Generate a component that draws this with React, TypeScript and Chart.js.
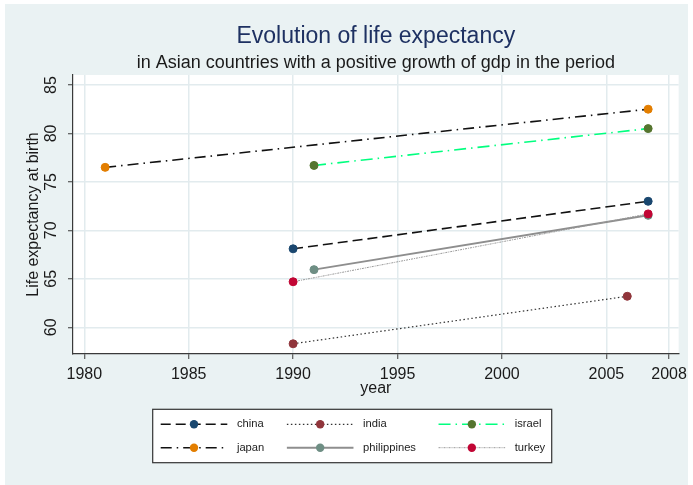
import React, { useEffect, useRef } from "react";
import { Chart, registerables } from "chart.js";

Chart.register(...registerables);

// ---------- text ----------
const TITLE = "Evolution of life expectancy";
const SUBTITLE = "in Asian countries with a positive growth of gdp in the period";
const X_TITLE = "year";
const Y_TITLE = "Life expectancy at birth";

// ---------- data ----------
const countries = ["china", "india", "israel", "japan", "philippines", "turkey"];

const chinaYears = [1990, 2007];
const chinaLife = [68.1, 73.0];
const indiaYears = [1990, 2006];
const indiaLife = [58.3, 63.2];
const israelYears = [1991, 2007];
const israelLife = [76.7, 80.5];
const japanYears = [1981, 2007];
const japanLife = [76.5, 82.5];
const philippinesYears = [1991, 2007];
const philippinesLife = [65.95, 71.55];
const turkeyYears = [1990, 2007];
const turkeyLife = [64.7, 71.7];

const xTicks = [1980, 1985, 1990, 1995, 2000, 2005, 2008];
const yTicks = [60, 65, 70, 75, 80, 85];

const seriesYears = [chinaYears, indiaYears, israelYears, japanYears, philippinesYears, turkeyYears];
const seriesLife = [chinaLife, indiaLife, israelLife, japanLife, philippinesLife, turkeyLife];

// ---------- styles ----------
const FAMILY = '"Liberation Sans", Arial, Helvetica, sans-serif';
const BG = "#EAF2F3";
const GRID = "#E2EBEE";
const AXIS = "#3a3a3a";
const TEXT = "#1a1a1a";
const TITLE_COLOR = "#1e3162";

const lineColors = ["#111111", "#333333", "#00ff7f", "#111111", "#8e8e8e", "#9a9a9a"];
const lineDashes = [[10, 5], [1.5, 2.5], [12, 5, 1.5, 5], [11, 5, 1.5, 5], [], [2, 1, 1, 1]];
const lineWidths = [1.6, 1.2, 1.6, 1.6, 2, 1];
const markerColors = ["#1a476f", "#90353b", "#55752f", "#e37e00", "#6e8e84", "#c10534"];

const backgroundPlugin = {
  id: "stataBackground",
  beforeDraw(chart: any) {
    const { ctx, width, height, chartArea: ca } = chart;
    ctx.save();
    ctx.fillStyle = "#ffffff";
    ctx.fillRect(0, 0, width, height);
    ctx.fillStyle = BG;
    ctx.fillRect(5, 4, 683, 481);
    ctx.fillStyle = "#ffffff";
    ctx.fillRect(ca.left, ca.top, ca.right - ca.left, ca.bottom - ca.top);
    ctx.restore();
  },
};

const decorPlugin = {
  id: "stataDecor",
  afterDraw(chart: any) {
    const { ctx, chartArea: ca } = chart;
    const cx = (ca.left + ca.right) / 2;
    ctx.save();
    // titles
    ctx.textAlign = "center";
    ctx.textBaseline = "alphabetic";
    ctx.fillStyle = TITLE_COLOR;
    ctx.font = `23px ${FAMILY}`;
    ctx.fillText(TITLE, cx, 43);
    ctx.fillStyle = TEXT;
    ctx.font = `18px ${FAMILY}`;
    ctx.fillText(SUBTITLE, cx, 67.5);

    // rotated y tick labels
    const ys = chart.scales.y;
    ctx.font = `16px ${FAMILY}`;
    ctx.fillStyle = TEXT;
    ctx.textAlign = "center";
    ctx.textBaseline = "middle";
    for (const t of ys.ticks) {
      const py = ys.getPixelForValue(t.value);
      ctx.save();
      ctx.translate(52, py);
      ctx.rotate(-Math.PI / 2);
      ctx.fillText(String(t.value), 0, 0);
      ctx.restore();
    }

    // legend
    const ds = chart.data.datasets;
    const cols = 3;
    const sampleW = 66.6;
    const gap = 9.6;
    const colGap = 22.6;
    ctx.font = `11.2px ${FAMILY}`;
    const colX: number[] = [160.7];
    const colMax: number[] = [];
    for (let c = 0; c < cols; c++) {
      let maxW = 0;
      for (let i = c; i < ds.length; i += cols) maxW = Math.max(maxW, ctx.measureText(ds[i].label).width);
      colMax.push(maxW);
      if (c < cols - 1) colX.push(colX[c] + sampleW + gap + maxW + colGap);
    }
    const boxL = 152.7;
    const boxT = 409.3;
    const boxR = colX[cols - 1] + sampleW + gap + colMax[cols - 1] + 6.5;
    const boxB = 462.7;
    ctx.fillStyle = "#ffffff";
    ctx.fillRect(boxL, boxT, boxR - boxL, boxB - boxT);
    ctx.strokeStyle = "#333333";
    ctx.lineWidth = 1.2;
    ctx.setLineDash([]);
    ctx.strokeRect(boxL, boxT, boxR - boxL, boxB - boxT);
    const rowY = [424.3, 447.7];
    ds.forEach((d: any, i: number) => {
      const c = i % cols;
      const r = Math.floor(i / cols);
      const x0 = colX[c];
      const y = rowY[r];
      ctx.save();
      ctx.strokeStyle = d.borderColor;
      ctx.lineWidth = d.borderWidth;
      ctx.setLineDash(d.borderDash || []);
      ctx.beginPath();
      ctx.moveTo(x0, y);
      ctx.lineTo(x0 + sampleW, y);
      ctx.stroke();
      ctx.setLineDash([]);
      ctx.fillStyle = d.pointBackgroundColor;
      ctx.beginPath();
      ctx.arc(x0 + sampleW / 2, y, 4.2, 0, Math.PI * 2);
      ctx.fill();
      ctx.restore();
      ctx.fillStyle = "#222222";
      ctx.textAlign = "left";
      ctx.textBaseline = "middle";
      ctx.fillText(d.label, x0 + sampleW + gap, y);
    });
    ctx.restore();
  },
};

export default function App() {
  const canvasRef = useRef<HTMLCanvasElement | null>(null);

  useEffect(() => {
    const canvas = canvasRef.current;
    if (!canvas) return;
    const datasets = countries.map((name, i) => ({
      label: name,
      data: seriesYears[i].map((yr, j) => ({ x: yr, y: seriesLife[i][j] })),
      borderColor: lineColors[i],
      borderDash: lineDashes[i],
      borderWidth: lineWidths[i],
      pointBackgroundColor: markerColors[i],
      pointBorderColor: markerColors[i],
      pointBorderWidth: 1,
      pointRadius: 4,
      tension: 0,
      fill: false,
      order: countries.length - 1 - i,
    }));

    const tickFont = { family: FAMILY, size: 16 };
    const chart = new Chart(canvas, {
      type: "line",
      data: { datasets },
      plugins: [backgroundPlugin, decorPlugin],
      options: {
        animation: false,
        responsive: false,
        devicePixelRatio: 1,
        layout: { padding: { left: 5, top: 75, right: 11, bottom: 86 } },
        plugins: {
          legend: { display: false },
          title: { display: false },
          tooltip: { enabled: false },
        },
        scales: {
          x: {
            type: "linear",
            min: 1979.46,
            max: 2008.46,
            afterBuildTicks: (s: any) => {
              s.ticks = xTicks.map((v) => ({ value: v }));
            },
            afterFit: (s: any) => {
              s.height = 45;
            },
            grid: { color: GRID, lineWidth: 1.5, drawTicks: true, tickLength: 5, tickColor: AXIS, tickWidth: 1 },
            border: { display: true, color: AXIS, width: 1.2 },
            ticks: {
              font: tickFont,
              color: TEXT,
              padding: 6,
              maxRotation: 0,
              minRotation: 0,
              autoSkip: false,
              callback: (v: any) => String(v),
            },
            title: { display: true, text: X_TITLE, font: tickFont, color: TEXT, padding: { top: 0, bottom: 1 } },
          },
          y: {
            type: "linear",
            min: 57.245,
            max: 86.03,
            afterBuildTicks: (s: any) => {
              s.ticks = yTicks.map((v) => ({ value: v }));
            },
            afterFit: (s: any) => {
              s.width = 68;
            },
            grid: { color: GRID, lineWidth: 1.5, drawTicks: true, tickLength: 5, tickColor: AXIS, tickWidth: 1 },
            border: { display: true, color: AXIS, width: 1.2 },
            ticks: { display: false },
            title: { display: true, text: Y_TITLE, font: tickFont, color: TEXT, padding: { top: 19, bottom: 0 } },
          },
        },
      } as any,
    });
    return () => chart.destroy();
  }, []);

  return (
    <div style={{ position: "absolute", left: 0, top: 0, width: 693, height: 485 }}>
      <canvas ref={canvasRef} width={693} height={485} style={{ display: "block", width: 693, height: 485 }} />
    </div>
  );
}
